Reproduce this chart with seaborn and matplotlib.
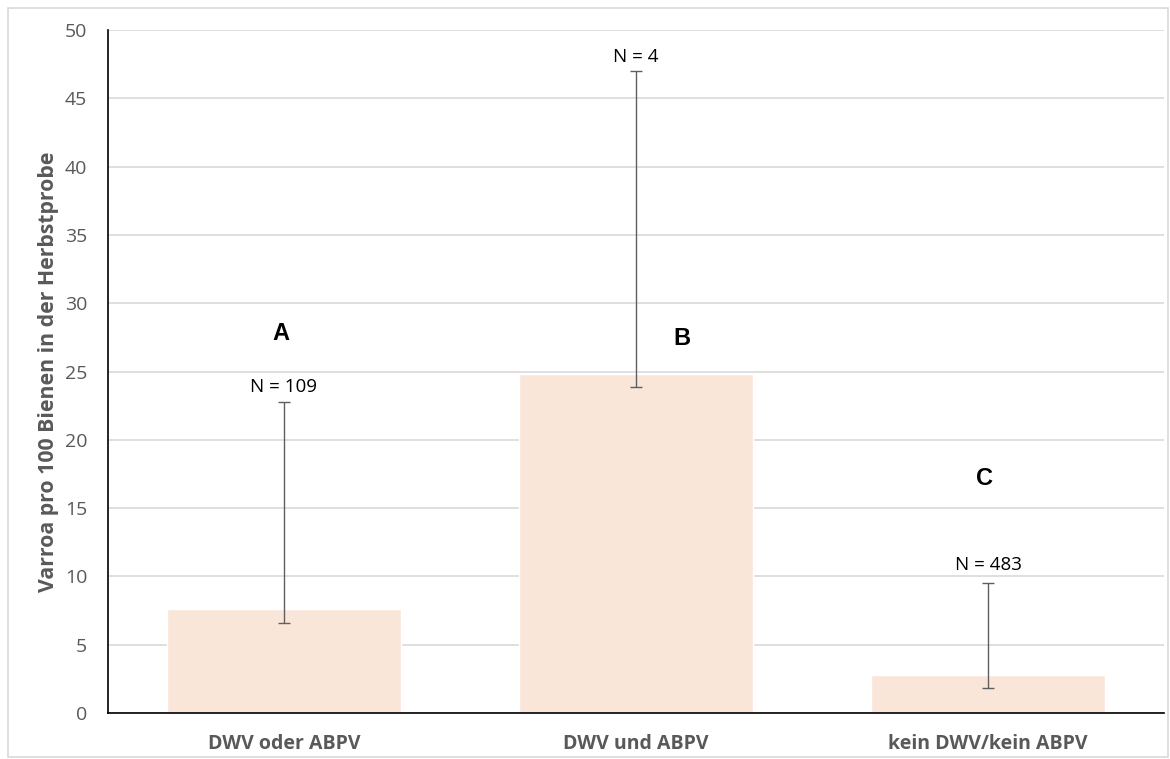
import numpy as np
import pandas as pd
import seaborn as sns
import matplotlib.pyplot as plt
from matplotlib.patches import Rectangle

# Werte
categories = ["DWV oder ABPV", "DWV und ABPV", "kein DWV/kein ABPV"]
means = [7.6, 24.8, 2.8]
err_low = [6.6, 23.9, 1.8]
err_high = [22.8, 47.0, 9.5]
n_labels = ["N = 109", "N = 4", "N = 483"]
n_label_y = [23.9, 48.0, 10.8]
groups = ["A", "B", "C"]
group_y = [27.8, 27.4, 17.2]
group_x_offset = [-0.01, 1.13, 1.99]

sns.set_theme(style="white")
plt.rcParams['font.family'] = ['Open Sans', 'DejaVu Sans']

df = pd.DataFrame({"Gruppe": categories, "Varroa": means})

fig = plt.figure(figsize=(11.7, 7.59), dpi=100)
ax = fig.add_axes([108 / 1170, 1 - 713 / 759, 1056 / 1170, 683 / 759])

sns.barplot(data=df, x="Gruppe", y="Varroa", color="#fae5d9", saturation=1,
            width=0.665, errorbar=None, ax=ax, zorder=2)

x = np.arange(len(categories))
yerr = [np.array(means) - np.array(err_low), np.array(err_high) - np.array(means)]
ax.errorbar(x, means, yerr=yerr, fmt="none", ecolor="#5f5f5f", elinewidth=1.0,
            capsize=4, capthick=1.0, zorder=3)

for xi, txt, yy in zip(x, n_labels, n_label_y):
    ax.text(xi, yy, txt, ha="center", va="center", fontsize=13.5, color="black")
for gx, g, gy in zip(group_x_offset, groups, group_y):
    ax.text(gx, gy, g, ha="center", va="center", fontsize=17, fontweight="bold",
            color="black", family=["Liberation Sans", "DejaVu Sans"])

ax.set_ylim(0, 50)
ax.set_xlim(-0.5, 2.5)
ax.set_yticks(range(0, 51, 5))
ax.yaxis.grid(True, color="#d9d9d9", linewidth=1.2, zorder=0)
ax.set_axisbelow(True)
ax.tick_params(axis="y", labelsize=14, labelcolor="#595959", length=0, pad=15)
ax.tick_params(axis="x", labelsize=14, labelcolor="#595959", length=0, pad=15)
for lbl in ax.get_xticklabels():
    lbl.set_fontweight("bold")

ax.set_xlabel("")
ax.set_ylabel("Varroa pro 100 Bienen in der Herbstprobe", fontsize=15.3,
              fontweight="bold", color="#595959", labelpad=4)

for side in ["top", "right"]:
    ax.spines[side].set_visible(False)
for side in ["left", "bottom"]:
    ax.spines[side].set_color("black")
    ax.spines[side].set_linewidth(1.2)

fig.patches.append(Rectangle((8 / 1170, 0.002), 1160 / 1170, 1 - 8 / 759 - 0.002,
                             transform=fig.transFigure, fill=False,
                             edgecolor="#d9d9d9", linewidth=1.2))

fig.savefig("out.png", dpi=100)
